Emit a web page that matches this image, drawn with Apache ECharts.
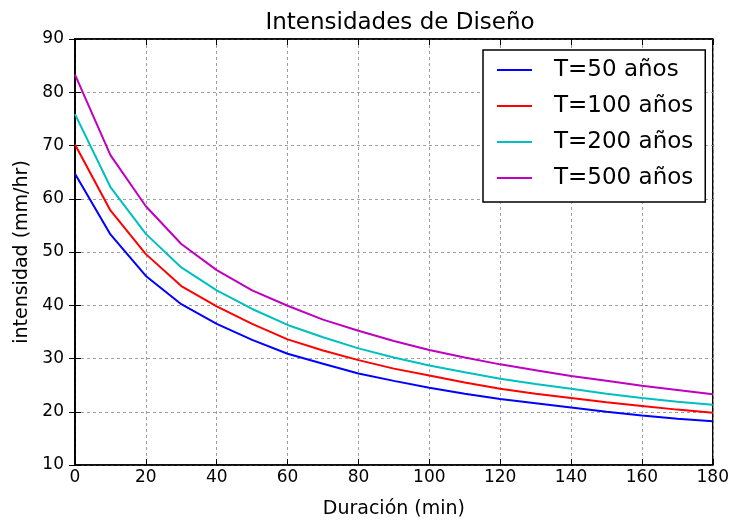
<!DOCTYPE html>
<html>
<head>
<meta charset="utf-8">
<script src="https://cdn.jsdelivr.net/npm/echarts@6/dist/echarts.min.js"></script>
<style>html,body{margin:0;padding:0;background:#fff}#c{width:732px;height:525px}</style>
</head>
<body>
<div id="c"></div>
<script>
const durations = [0,10,20,30,40,50,60,70,80,90,100,110,120,130,140,150,160,170,180];
const t50  = [64.7,53.3,45.5,40.2,36.5,33.5,30.9,29.0,27.2,25.8,24.5,23.4,22.4,21.6,20.8,20.0,19.3,18.7,18.2];
const t100 = [70.2,57.8,49.6,43.6,39.8,36.5,33.6,31.5,29.7,28.1,26.8,25.5,24.3,23.4,22.6,21.8,21.1,20.4,19.8];
const t200 = [75.9,62.2,53.4,47.1,42.8,39.3,36.3,34.0,31.9,30.2,28.7,27.4,26.2,25.2,24.3,23.4,22.6,21.9,21.3];
const t500 = [83.3,68.2,58.6,51.5,46.6,42.8,39.9,37.3,35.2,33.3,31.6,30.2,28.9,27.8,26.7,25.8,24.9,24.1,23.3];
const seriesNames = ['T=50 años','T=100 años','T=200 años','T=500 años'];
const seriesColors = ['#0000ff','#ff0000','#00bfbf','#bf00bf'];
const xTicks = {min:0, max:180, interval:20};
const yTicks = {min:10, max:90, interval:10};

const FONT = 'DejaVu Sans';
const allData = [t50,t100,t200,t500];
const chart = echarts.init(document.getElementById('c'), null, {renderer:'canvas'});
const gridLine = {show:true, lineStyle:{color:'#a0a0a0', type:[3,3], width:1}};
const baseX = {type:'value', min:xTicks.min, max:xTicks.max, interval:xTicks.interval};
const baseY = {type:'value', min:yTicks.min, max:yTicks.max, interval:yTicks.interval};
chart.setOption({
  animation:false,
  backgroundColor:'#fff',
  title:{text:'Intensidades de Diseño', left:395, textAlign:'center', top:7,
    textStyle:{fontFamily:FONT, fontSize:23, fontWeight:'normal', color:'#000'}},
  grid:{left:75, right:16, top:39, bottom:60, show:true, borderColor:'#000', borderWidth:1.5},
  legend:{
    orient:'vertical', left:483, top:50,
    data:seriesNames,
    icon:'rect', itemWidth:35, itemHeight:2, itemGap:12,
    padding:[8,12,12,14],
    borderColor:'#000', borderWidth:1.5, backgroundColor:'#fff',
    textStyle:{fontFamily:FONT, fontSize:23, color:'#000', lineHeight:24, padding:[0,0,0,17]}
  },
  xAxis:[
    Object.assign({}, baseX, {position:'bottom', name:'Duración (min)', nameLocation:'middle', nameGap:35,
      nameTextStyle:{fontFamily:FONT, fontSize:19, color:'#000', verticalAlign:'top'},
      axisLine:{show:true, lineStyle:{color:'#000', width:1.5}},
      axisTick:{show:true, inside:true, length:6, lineStyle:{color:'#000'}},
      axisLabel:{fontFamily:FONT, fontSize:17, color:'#000', margin:4},
      splitLine:gridLine}),
    Object.assign({}, baseX, {position:'top',
      axisLine:{show:true, lineStyle:{color:'#000', width:1.5}},
      axisTick:{show:true, inside:true, length:6, lineStyle:{color:'#000'}},
      axisLabel:{show:false}, splitLine:{show:false}})
  ],
  yAxis:[
    Object.assign({}, baseY, {position:'left', name:'intensidad (mm/hr)', nameLocation:'middle', nameGap:43,
      nameTextStyle:{fontFamily:FONT, fontSize:19, color:'#000'},
      axisLine:{show:true, lineStyle:{color:'#000', width:1.5}},
      axisTick:{show:true, inside:true, length:6, lineStyle:{color:'#000'}},
      axisLabel:{fontFamily:FONT, fontSize:17, color:'#000', margin:11},
      splitLine:gridLine}),
    Object.assign({}, baseY, {position:'right',
      axisLine:{show:true, lineStyle:{color:'#000', width:1.5}},
      axisTick:{show:true, inside:true, length:6, lineStyle:{color:'#000'}},
      axisLabel:{show:false}, splitLine:{show:false}})
  ],
  series: seriesNames.map((n,i)=>({
    name:n, type:'line', xAxisIndex:0, yAxisIndex:0,
    data: durations.map((d,j)=>[d, allData[i][j]]),
    showSymbol:false, symbol:'none',
    lineStyle:{color:seriesColors[i], width:2}, itemStyle:{color:seriesColors[i]}
  }))
});
</script>
</body>
</html>
